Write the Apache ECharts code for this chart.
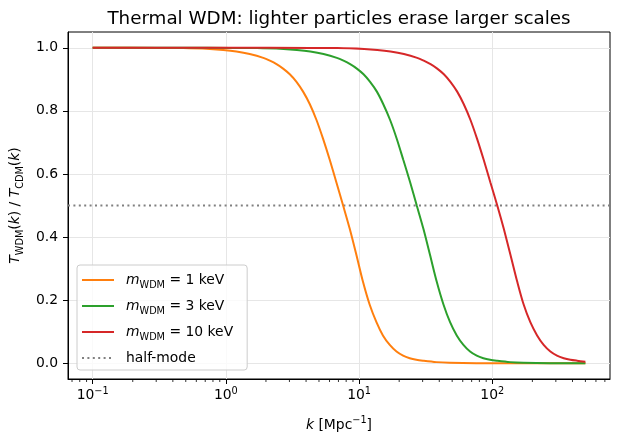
<!DOCTYPE html>
<html>
<head>
<meta charset="utf-8">
<script src="https://cdn.jsdelivr.net/npm/echarts@6/dist/echarts.min.js"></script>
<style>
  html, body { margin: 0; padding: 0; background: #fff; }
  #chart { width: 620px; height: 444px; }
</style>
</head>
<body>
<div id="chart"></div>
<script>
// values
const kOrange = [0.1, 0.302, 0.479, 0.759, 0.955, 1.20, 1.51, 1.91, 2.14, 2.40, 2.69, 3.02, 3.39, 3.80, 4.27, 4.79, 5.37, 6.03, 6.76, 7.59,
  8.51, 9.55, 10.7, 12.0, 13.5, 15.1, 17.0, 19.1, 21.4, 24.0, 26.9, 30.2, 38.0, 47.9, 75.9, 150, 500];
const tOrange = [1.0, 0.9995, 0.999, 0.996, 0.993, 0.988, 0.980, 0.968, 0.959, 0.948, 0.934, 0.916, 0.892, 0.861, 0.821, 0.771, 0.711, 0.644, 0.573, 0.500,
  0.426, 0.343, 0.258, 0.186, 0.130, 0.088, 0.058, 0.037, 0.024, 0.016, 0.011, 0.008, 0.0035, 0.0015, 0.0002, 0.0, 0.0];

const kGreen = [0.1, 0.5, 1.08, 1.71, 2.71, 3.41, 4.30, 5.41, 6.81, 7.64, 8.57, 9.62, 10.8, 12.1, 13.6, 15.2, 17.1, 19.2, 21.5, 24.2, 27.1,
  30.4, 34.1, 38.3, 43.0, 48.2, 54.1, 60.7, 68.1, 76.4, 85.7, 96.2, 108, 136, 171, 271, 500];
const tGreen = [1.0, 1.0, 0.9995, 0.999, 0.996, 0.993, 0.988, 0.980, 0.968, 0.959, 0.948, 0.934, 0.916, 0.892, 0.861, 0.821, 0.771, 0.711, 0.644, 0.573, 0.500,
  0.426, 0.343, 0.258, 0.186, 0.130, 0.088, 0.058, 0.037, 0.024, 0.016, 0.011, 0.008, 0.0035, 0.0015, 0.0002, 0.0];

const kRed = [0.1, 1, 4.33, 6.86, 10.9, 13.7, 17.2, 21.7, 27.3, 30.6, 34.4, 38.6, 43.3, 48.5, 54.5, 61.1, 68.6, 76.9, 86.3, 96.8, 109,
  122, 137, 154, 172, 193, 217, 243, 273, 306, 344, 386, 433, 500];
const tRed = [1.0, 1.0, 0.9995, 0.999, 0.996, 0.993, 0.988, 0.980, 0.968, 0.959, 0.948, 0.934, 0.916, 0.892, 0.861, 0.821, 0.771, 0.711, 0.644, 0.573, 0.500,
  0.426, 0.343, 0.258, 0.186, 0.130, 0.088, 0.058, 0.037, 0.024, 0.016, 0.011, 0.008, 0.005];

const masses = [1, 3, 10];
const halfMode = 0.5;

// axis limits and ticks
const xMin = 0.0653, xMax = 765;
const yMin = -0.05, yMax = 1.05;
const xMajorTicks = [0.1, 1, 10, 100];
const xMinorTicks = [0.07, 0.08, 0.09, 0.2, 0.3, 0.4, 0.5, 0.6, 0.7, 0.8, 0.9,
  2, 3, 4, 5, 6, 7, 8, 9, 20, 30, 40, 50, 60, 70, 80, 90,
  200, 300, 400, 500, 600, 700];
const yTicks = [0, 0.2, 0.4, 0.6, 0.8, 1.0];

const colors = ['#ff7f0e', '#2ca02c', '#d62728'];
const FONT = 'DejaVu Sans';
const FS = 13.9;

const txt = (size, extra) => Object.assign({ fontFamily: FONT, fontSize: size, color: '#000' }, extra || {});
const mathRich = {
  n: txt(FS, { lineHeight: 20 }),
  i: txt(FS, { fontStyle: 'italic', lineHeight: 20 }),
  s: txt(FS * 0.7, { lineHeight: 10, verticalAlign: 'bottom' }),
  p: txt(FS * 0.7, { lineHeight: 10, verticalAlign: 'top' }),
  g: { width: 7 },
};

const pairs = (ks, ts) => ks.map((k, i) => [k, ts[i]]);
const names = masses.map((m) => `mWDM = ${m} keV`);
const curves = [pairs(kOrange, tOrange), pairs(kGreen, tGreen), pairs(kRed, tRed)];

const chart = echarts.init(document.getElementById('chart'), null, { renderer: 'canvas' });

const series = curves.map((data, i) => ({
  name: names[i],
  type: 'line',
  data,
  symbol: 'none',
  showSymbol: false,
  smooth: 0.3,
  lineStyle: { color: colors[i], width: 2 },
  itemStyle: { color: colors[i] },
  z: 3,
}));

series.push({
  name: 'half-mode',
  type: 'line',
  data: [[xMin, halfMode], [xMax, halfMode]],
  symbol: 'none',
  showSymbol: false,
  lineStyle: { color: '#808080', width: 2, type: [2, 3.4] },
  itemStyle: { color: '#808080' },
  z: 2,
});

// log minor ticks on the k axis
series.push({
  name: 'minor-ticks',
  type: 'custom',
  silent: true,
  clip: false,
  data: xMinorTicks.map((v) => [v, yMin]),
  renderItem: (params, api) => {
    const p = api.coord([api.value(0), api.value(1)]);
    return {
      type: 'line',
      shape: { x1: p[0], y1: p[1], x2: p[0], y2: p[1] + 3 },
      style: { stroke: '#000', lineWidth: 0.8 },
    };
  },
  z: 4,
});

const option = {
  animation: false,
  backgroundColor: '#fff',
  title: {
    text: 'Thermal WDM: lighter particles erase larger scales',
    left: 334,
    textAlign: 'center',
    top: 5,
    textStyle: { fontFamily: FONT, fontSize: 18.3, fontWeight: 'normal', color: '#000' },
  },
  grid: {
    left: 68, right: 10, top: 32, bottom: 65,
    show: true, borderColor: '#000', borderWidth: 1, backgroundColor: 'transparent',
    containLabel: false,
  },
  legend: {
    orient: 'vertical',
    left: 77,
    top: 265,
    data: names.concat(['half-mode']),
    itemWidth: 32,
    itemHeight: 10,
    itemGap: 9,
    padding: [8, 14, 5, 4],
    backgroundColor: 'rgba(255,255,255,0.8)',
    borderColor: '#cccccc',
    borderWidth: 1,
    borderRadius: 3,
    itemStyle: { opacity: 0 },
    textStyle: { fontFamily: FONT, fontSize: FS, color: '#000', rich: mathRich },
    formatter: (name) => {
      if (name === 'half-mode') return '{g|}{n|half-mode}';
      const m = name.split('= ')[1];
      return `{g|}{i|m}{s|WDM}{n| = ${m}}`;
    },
  },
  xAxis: {
    type: 'log',
    logBase: 10,
    min: xMin,
    max: xMax,
    name: '{i|k}{n| [Mpc}{p|−1}{n|]}',
    nameLocation: 'middle',
    nameGap: 36,
    nameTextStyle: { rich: mathRich },
    axisLine: { show: true, onZero: false, lineStyle: { color: '#000', width: 1 } },
    axisTick: { show: true, length: 5, customValues: xMajorTicks, lineStyle: { color: '#000', width: 1 } },
    axisLabel: {
      customValues: xMajorTicks,
      margin: 7,
      formatter: (v) => {
        const e = Math.round(Math.log10(v));
        return `{b|10}{p|${e < 0 ? '−' : ''}${Math.abs(e)}}`;
      },
      rich: { b: txt(FS, { lineHeight: 18 }), p: txt(FS * 0.7, { lineHeight: 10, verticalAlign: 'top' }) },
    },
    splitLine: { show: true, lineStyle: { color: '#e6e6e6', width: 1 } },
    minorTick: { show: false },
  },
  yAxis: {
    type: 'value',
    min: yMin,
    max: yMax,
    name: '{i|T}{s|WDM}{n|(}{i|k}{n|) / }{i|T}{s|CDM}{n|(}{i|k}{n|)}',
    nameLocation: 'middle',
    nameRotate: 90,
    nameGap: 42,
    nameTextStyle: { rich: mathRich },
    axisLine: { show: true, onZero: false, lineStyle: { color: '#000', width: 1 } },
    axisTick: { show: true, length: 5, customValues: yTicks, lineStyle: { color: '#000', width: 1 } },
    axisLabel: {
      customValues: yTicks,
      margin: 10,
      fontFamily: FONT,
      fontSize: FS,
      color: '#000',
      formatter: (v) => v.toFixed(1),
    },
    splitLine: { show: true, lineStyle: { color: '#e6e6e6', width: 1 } },
  },
  series,
};

chart.setOption(option);
window.addEventListener('resize', () => chart.resize());
</script>
</body>
</html>
